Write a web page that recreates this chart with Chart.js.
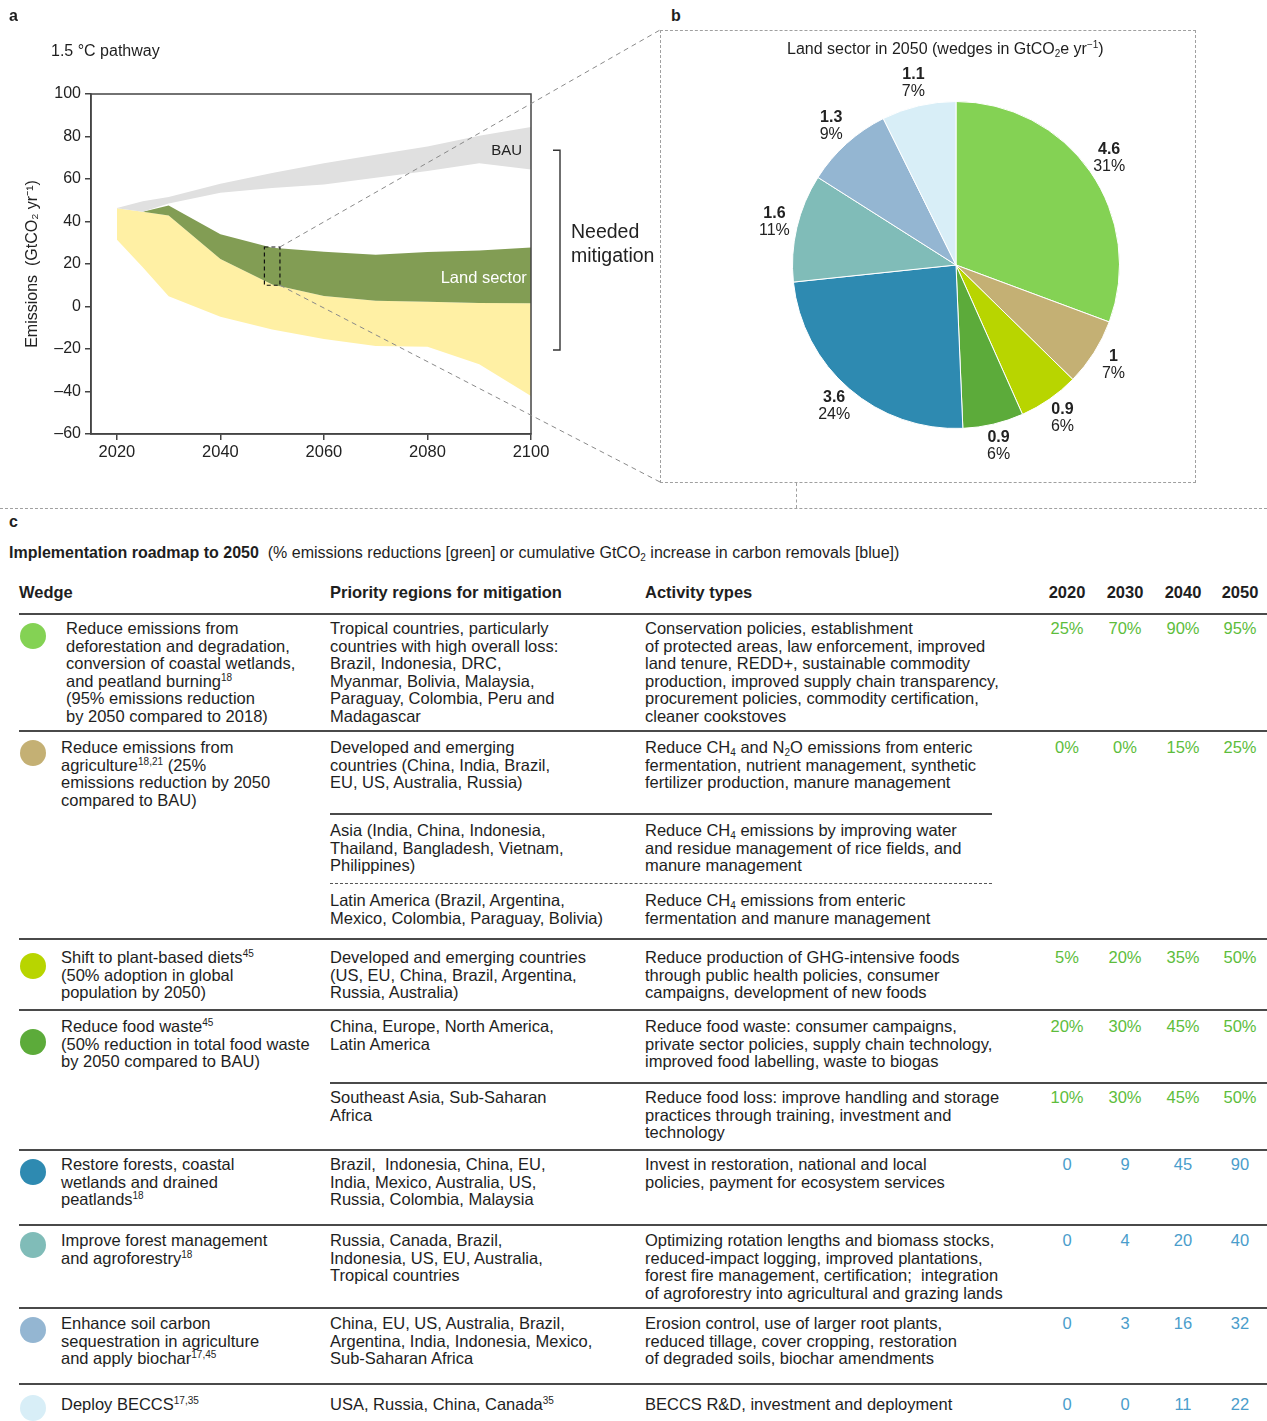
<!DOCTYPE html>
<html>
<head>
<meta charset="utf-8">
<script src="https://cdn.jsdelivr.net/npm/chart.js@4.4.1/dist/chart.umd.min.js"></script>
<style>
  body { margin: 0; background: #fff; font-family: "Liberation Sans", Arial, sans-serif; color: #1e1e1e; }
  #page { position: relative; width: 1267px; height: 1421px; overflow: hidden; }
  .t { position: absolute; white-space: nowrap; line-height: 18px; }
  .cell { position: absolute; white-space: nowrap; font-size: 16.5px; line-height: 17.5px; color: #1e1e1e; }
  .val { position: absolute; width: 50px; text-align: center; font-size: 16.5px; line-height: 17.5px; }
  .rule { position: absolute; height: 0; border-top: 2px solid #4a4a4a; }
  .dot { position: absolute; width: 26px; height: 26px; border-radius: 50%; }
  sup { font-size: 10px; line-height: 0; vertical-align: 6px; }
  sub { font-size: 10px; line-height: 0; vertical-align: -3px; }
  canvas { position: absolute; }
</style>
</head>
<body>
<div id="page">
  <canvas id="pathwayChart" width="664" height="486" style="left:0;top:0"></canvas>
  <div style="position:absolute;left:660px;top:30px;width:534px;height:451px;border:1px dashed #a0a0a0"></div>
  <canvas id="wedgeChart" width="535" height="452" style="left:660px;top:30px"></canvas>
  <div style="position:absolute;left:0;top:508px;width:1267px;border-top:1px dashed #a0a0a0"></div>
  <div style="position:absolute;left:796px;top:483px;height:25px;border-left:1px dashed #a0a0a0"></div>
</div>
<script>
// ---- panel a: 1.5 °C pathway (GtCO2 / yr) ----
const years = [2020, 2025, 2030, 2040, 2050, 2060, 2070, 2080, 2090, 2100];
const bauHigh = [46.3, 49.5, 51.5, 57.8, 62.8, 67.4, 71.4, 75.3, 80.4, 84.5];
const bauLow = [46.3, 44.6, 48.5, 53.5, 55.8, 57.4, 60.6, 63.8, 67.4, 64.5];
const landTop = [46.3, 44.6, 47.5, 34.0, 27.6, 25.8, 24.3, 25.6, 26.3, 27.8];
const landBottom = [46.3, 44.6, 42.8, 22.4, 10.4, 4.9, 2.7, 2.2, 1.6, 1.5];
const otherBottom = [31.5, 18.5, 4.8, -4.8, -10.8, -15.3, -18.6, -18.9, -27.2, -42.1];
const yTickValues = [-60, -40, -20, 0, 20, 40, 60, 80, 100];
const xTickValues = [2020, 2040, 2060, 2080, 2100];

// ---- panel b: land sector wedges in 2050 (GtCO2e / yr) ----
const wedgeNames = ["Deforestation", "Agriculture", "Diets", "Food waste", "Restoration", "Forest management", "Soil carbon", "BECCS"];
const wedge2050 = [4.6, 1, 0.9, 0.9, 3.6, 1.6, 1.3, 1.1];
const wedgeColors = ["#84d254", "#c4b074", "#b8d500", "#5cab3a", "#2e8ab1", "#80bcb8", "#94b6d2", "#d8eef7"];

// ---- panel c: roadmap table ----
const roadmapYears = ["2020", "2030", "2040", "2050"];
const wedgeLabels = [
  "Reduce emissions from<br>deforestation and degradation,<br>conversion of coastal wetlands,<br>and peatland burning<sup>18</sup><br>(95% emissions reduction<br>by 2050 compared to 2018)",
  "Reduce emissions from<br>agriculture<sup>18,21</sup> (25%<br>emissions reduction by 2050<br>compared to BAU)",
  "Shift to plant-based diets<sup>45</sup><br>(50% adoption in global<br>population by 2050)",
  "Reduce food waste<sup>45</sup><br>(50% reduction in total food waste<br>by 2050 compared to BAU)",
  "Restore forests, coastal<br>wetlands and drained<br>peatlands<sup>18</sup>",
  "Improve forest management<br>and agroforestry<sup>18</sup>",
  "Enhance soil carbon<br>sequestration in agriculture<br>and apply biochar<sup>17,45</sup>",
  "Deploy BECCS<sup>17,35</sup>"
];
const regionTexts = [
  ["Tropical countries, particularly<br>countries with high overall loss:<br>Brazil, Indonesia, DRC,<br>Myanmar, Bolivia, Malaysia,<br>Paraguay, Colombia, Peru and<br>Madagascar"],
  ["Developed and emerging<br>countries (China, India, Brazil,<br>EU, US, Australia, Russia)",
   "Asia (India, China, Indonesia,<br>Thailand, Bangladesh, Vietnam,<br>Philippines)",
   "Latin America (Brazil, Argentina,<br>Mexico, Colombia, Paraguay, Bolivia)"],
  ["Developed and emerging countries<br>(US, EU, China, Brazil, Argentina,<br>Russia, Australia)"],
  ["China, Europe, North America,<br>Latin America", "Southeast Asia, Sub-Saharan<br>Africa"],
  ["Brazil,&nbsp; Indonesia, China, EU,<br>India, Mexico, Australia, US,<br>Russia, Colombia, Malaysia"],
  ["Russia, Canada, Brazil,<br>Indonesia, US, EU, Australia,<br>Tropical countries"],
  ["China, EU, US, Australia, Brazil,<br>Argentina, India, Indonesia, Mexico,<br>Sub-Saharan Africa"],
  ["USA, Russia, China, Canada<sup>35</sup>"]
];
const activityTexts = [
  ["Conservation policies, establishment<br>of protected areas, law enforcement, improved<br>land tenure, REDD+, sustainable commodity<br>production, improved supply chain transparency,<br>procurement policies, commodity certification,<br>cleaner cookstoves"],
  ["Reduce CH<sub>4</sub> and N<sub>2</sub>O emissions from enteric<br>fermentation, nutrient management, synthetic<br>fertilizer production, manure management",
   "Reduce CH<sub>4</sub> emissions by improving water<br>and residue management of rice fields, and<br>manure management",
   "Reduce CH<sub>4</sub> emissions from enteric<br>fermentation and manure management"],
  ["Reduce production of GHG-intensive foods<br>through public health policies, consumer<br>campaigns, development of new foods"],
  ["Reduce food waste: consumer campaigns,<br>private sector policies, supply chain technology,<br>improved food labelling, waste to biogas",
   "Reduce food loss: improve handling and storage<br>practices through training, investment and<br>technology"],
  ["Invest in restoration, national and local<br>policies, payment for ecosystem services"],
  ["Optimizing rotation lengths and biomass stocks,<br>reduced-impact logging, improved plantations,<br>forest fire management, certification;&nbsp; integration<br>of agroforestry into agricultural and grazing lands"],
  ["Erosion control, use of larger root plants,<br>reduced tillage, cover cropping, restoration<br>of degraded soils, biochar amendments"],
  ["BECCS R&amp;D, investment and deployment"]
];
const roadmapValues = [
  [[25, 70, 90, 95]],
  [[0, 0, 15, 25]],
  [[5, 20, 35, 50]],
  [[20, 30, 45, 50], [10, 30, 45, 50]],
  [[0, 9, 45, 90]],
  [[0, 4, 20, 40]],
  [[0, 3, 16, 32]],
  [[0, 0, 11, 22]]
];
const valueUnits = ["%", "%", "%", "%", "", "", "", ""];

// layout of the table (page pixels)
const subRowTops = [[614], [731, 814, 884], [939], [1010, 1083], [1150], [1225], [1308], [1384]];
const subRowPads = [[6], [8, 8, 8], [10], [8, 6], [6], [7], [7], [12]];
const dotOffsets = [22, 22, 27, 32, 22, 20, 22, 24];
const yearCenters = [1067, 1125, 1183, 1240];
const FONT = "'Liberation Sans', Arial, sans-serif";

Chart.defaults.font.family = FONT;
Chart.defaults.color = "#1e1e1e";

function series(vals) {
  return vals.map((v, i) => ({ x: years[i], y: v }));
}

const panelAExtras = {
  id: "panelAExtras",
  afterDatasetsDraw(chart) {
    const { ctx, chartArea: a } = chart;
    const x = chart.scales.x, y = chart.scales.y;
    ctx.save();
    // frame
    ctx.strokeStyle = "#444";
    ctx.lineWidth = 1.5;
    ctx.strokeRect(a.left, a.top, a.right - a.left, a.bottom - a.top);

    ctx.textBaseline = "middle";
    ctx.textAlign = "right";
    ctx.fillStyle = "#222";
    ctx.font = "15px " + FONT;
    ctx.fillText("BAU", x.getPixelForValue(2098.3), y.getPixelForValue(73.3));
    ctx.fillStyle = "#fff";
    ctx.font = "16.5px " + FONT;
    ctx.fillText("Land sector", x.getPixelForValue(2099.2), y.getPixelForValue(13));

    // zoom box around the land sector band in 2050
    const i50 = years.indexOf(2050);
    const bx0 = x.getPixelForValue(2048.5), bx1 = x.getPixelForValue(2051.5);
    const by0 = y.getPixelForValue(landTop[i50] + 0.4), by1 = y.getPixelForValue(landBottom[i50] - 0.4);
    ctx.strokeStyle = "#111";
    ctx.lineWidth = 1.2;
    ctx.setLineDash([4, 3]);
    ctx.strokeRect(bx0, by0, bx1 - bx0, by1 - by0);

    // connectors to panel b
    ctx.strokeStyle = "#8a8a8a";
    ctx.lineWidth = 1;
    ctx.setLineDash([5, 4]);
    ctx.beginPath();
    ctx.moveTo(bx1, by0); ctx.lineTo(660, 30);
    ctx.moveTo(bx1, by1); ctx.lineTo(660, 482);
    ctx.stroke();
    ctx.setLineDash([]);

    // needed mitigation bracket
    const bx = a.right + 29, t = y.getPixelForValue(73.5), b = y.getPixelForValue(-20.5);
    ctx.strokeStyle = "#333";
    ctx.lineWidth = 1.4;
    ctx.beginPath();
    ctx.moveTo(bx - 7, t); ctx.lineTo(bx, t); ctx.lineTo(bx, b); ctx.lineTo(bx - 7, b);
    ctx.stroke();
    ctx.fillStyle = "#222";
    ctx.textAlign = "left";
    ctx.font = "19.5px " + FONT;
    const mid = (t + b) / 2;
    ctx.fillText("Needed", bx + 11, mid - 18);
    ctx.fillText("mitigation", bx + 11, mid + 6);
    ctx.restore();
  }
};

new Chart(document.getElementById("pathwayChart"), {
  type: "line",
  data: {
    datasets: [
      { label: "BAU low", data: series(bauLow), fill: false, borderWidth: 0, pointRadius: 0 },
      { label: "BAU", data: series(bauHigh), fill: "-1", backgroundColor: "#e0e0e0", borderWidth: 0, pointRadius: 0 },
      { label: "Land sector", data: series(landTop), fill: "+1", backgroundColor: "#829d54", borderWidth: 0, pointRadius: 0 },
      { label: "Other sectors", data: series(landBottom), fill: "+1", backgroundColor: "#fff0a4", borderWidth: 0, pointRadius: 0 },
      { label: "Other low", data: series(otherBottom), fill: false, borderWidth: 0, pointRadius: 0 }
    ]
  },
  options: {
    responsive: false,
    animation: false,
    layout: { padding: { left: 23, right: 133, top: 94, bottom: 6 } },
    plugins: { legend: { display: false }, tooltip: { enabled: false } },
    scales: {
      x: {
        type: "linear",
        min: 2015,
        max: 2100,
        afterBuildTicks: (s) => { s.ticks = xTickValues.map((v) => ({ value: v })); },
        afterFit: (s) => { s.height = 46; },
        grid: { drawOnChartArea: false, tickLength: 6, color: "#444", lineWidth: 1.5 },
        border: { color: "#444", width: 1.5 },
        ticks: { font: { size: 16.5 }, color: "#222", padding: 3, callback: (v) => String(v) }
      },
      y: {
        min: -60,
        max: 100,
        afterBuildTicks: (s) => { s.ticks = yTickValues.map((v) => ({ value: v })); },
        afterFit: (s) => { s.width = 68; },
        grid: { drawOnChartArea: false, tickLength: 6, color: "#444", lineWidth: 1.5 },
        border: { color: "#444", width: 1.5 },
        ticks: { font: { size: 16 }, color: "#222", padding: 4, callback: (v) => (v < 0 ? "\u2013" + Math.abs(v) : String(v)) },
        title: { display: true, text: "Emissions  (GtCO\u2082 yr\u207B\u00B9)", font: { size: 16 }, color: "#222", padding: 0 }
      }
    }
  },
  plugins: [panelAExtras]
});

// ---- panel b pie ----
const wedgeTotal = wedge2050.reduce((s, v) => s + v, 0);
const pieLabels = {
  id: "pieLabels",
  afterDatasetsDraw(chart) {
    const ctx = chart.ctx;
    const meta = chart.getDatasetMeta(0);
    ctx.save();
    ctx.textAlign = "center";
    ctx.textBaseline = "middle";
    ctx.fillStyle = "#222";
    meta.data.forEach((arc, i) => {
      const midAngle = (arc.startAngle + arc.endAngle) / 2;
      const r = arc.outerRadius + 23;
      const cx = arc.x + Math.cos(midAngle) * r;
      const cy = arc.y + Math.sin(midAngle) * r;
      ctx.font = "bold 16px " + FONT;
      ctx.fillText(String(wedge2050[i]), cx, cy - 8.5);
      ctx.font = "16px " + FONT;
      ctx.fillText(Math.round((wedge2050[i] / wedgeTotal) * 100) + "%", cx, cy + 8.5);
    });
    ctx.restore();
  }
};

new Chart(document.getElementById("wedgeChart"), {
  type: "pie",
  data: {
    labels: wedgeNames,
    datasets: [{ data: wedge2050, backgroundColor: wedgeColors, borderColor: "#fff", borderWidth: 1 }]
  },
  options: {
    responsive: false,
    animation: false,
    layout: { padding: { left: 132, right: 75, top: 71, bottom: 53 } },
    plugins: { legend: { display: false }, tooltip: { enabled: false } }
  },
  plugins: [pieLabels]
});

// ---- texts and table ----
const page = document.getElementById("page");
function text(html, left, centerY, style) {
  const d = document.createElement("div");
  d.className = "t";
  d.style.left = left + "px";
  d.style.top = (centerY - 9) + "px";
  d.style.cssText += style || "";
  d.innerHTML = html;
  page.appendChild(d);
  return d;
}
function rule(left, right, y, dashed) {
  const d = document.createElement("div");
  d.className = "rule";
  d.style.left = left + "px";
  d.style.width = (right - left) + "px";
  d.style.top = (y - 1) + "px";
  if (dashed) d.style.borderTop = "1.5px dashed #555";
  page.appendChild(d);
}
function cell(html, left, top, cls, extra) {
  const d = document.createElement("div");
  d.className = cls;
  d.style.left = left + "px";
  d.style.top = top + "px";
  if (extra) d.style.cssText += extra;
  d.innerHTML = html;
  page.appendChild(d);
}

text("a", 9, 16, "font-weight:bold;font-size:16px");
text("1.5 \u00B0C pathway", 51, 51, "font-size:16px");
text("b", 671, 16, "font-weight:bold;font-size:16px");
text("Land sector in 2050 (wedges in GtCO<sub>2</sub>e yr<sup>\u22121</sup>)", 787, 49, "font-size:16px");
text("c", 9, 522, "font-weight:bold;font-size:16px");
text("<b>Implementation roadmap to 2050</b>&nbsp; (% emissions reductions [green] or cumulative GtCO<sub>2</sub> increase in carbon removals [blue])", 9, 553, "font-size:16px");

text("Wedge", 19, 592, "font-weight:bold;font-size:16.5px");
text("Priority regions for mitigation", 330, 592, "font-weight:bold;font-size:16.5px");
text("Activity types", 645, 592, "font-weight:bold;font-size:16.5px");
roadmapYears.forEach((yr, k) => {
  text(yr, yearCenters[k] - 25, 592, "font-weight:bold;font-size:16.5px;width:50px;text-align:center");
});

wedgeLabels.forEach((label, r) => {
  const tops = subRowTops[r];
  const pads = subRowPads[r];
  rule(19, 1267, tops[0], false);
  const dot = document.createElement("div");
  dot.className = "dot";
  dot.style.left = "20px";
  dot.style.top = (tops[0] + dotOffsets[r] - 13) + "px";
  dot.style.background = wedgeColors[r];
  page.appendChild(dot);
  cell(label, r === 0 ? 66 : 61, tops[0] + pads[0], "cell");
  regionTexts[r].forEach((reg, s) => {
    const top = tops[s];
    if (s > 0) {
      if (r === 1) rule(330, 992, top, s === 2);
      else rule(330, 1267, top, false);
    }
    cell(reg, 330, top + pads[s], "cell");
    cell(activityTexts[r][s], 645, top + pads[s], "cell");
    const vals = roadmapValues[r][s];
    if (vals) {
      vals.forEach((v, k) => {
        const color = valueUnits[r] === "%" ? "#5dbd3c" : "#4a9dcb";
        cell(v + valueUnits[r], yearCenters[k] - 25, top + pads[s], "val", "color:" + color);
      });
    }
  });
});
</script>
</body>
</html>
